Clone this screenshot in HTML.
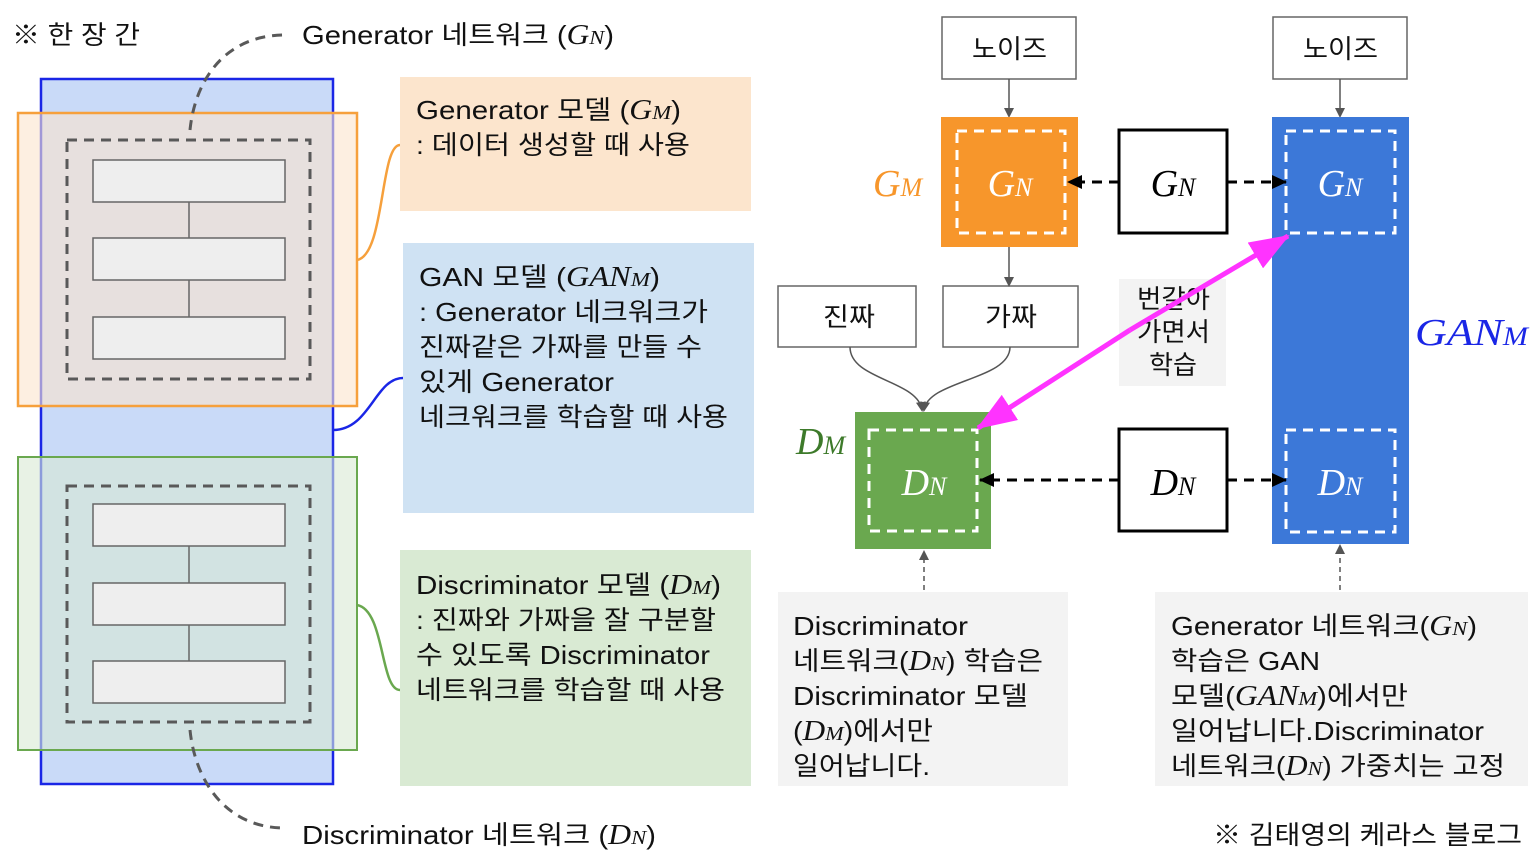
<!DOCTYPE html>
<html><head><meta charset="utf-8"><style>
html,body{margin:0;padding:0;background:#fff}
svg{display:block}
.t{font-family:"Liberation Sans","Noto Sans CJK KR",sans-serif;font-size:26px;fill:#111}
.m{font-family:"Liberation Serif",serif;font-style:italic}
</style></head><body>
<svg width="1538" height="858" viewBox="0 0 1538 858" xmlns="http://www.w3.org/2000/svg">
<defs>
<marker id="ag" markerWidth="10" markerHeight="10" refX="8" refY="5" orient="auto" markerUnits="userSpaceOnUse"><path d="M0,0 L10,5 L0,10 z" fill="#555"/></marker>
<marker id="ab" markerWidth="16" markerHeight="16" refX="14" refY="8" orient="auto" markerUnits="userSpaceOnUse"><path d="M0,1 L15,8 L0,15 z" fill="#000"/></marker>
<marker id="am" markerWidth="40" markerHeight="30" refX="38" refY="15" orient="auto" markerUnits="userSpaceOnUse"><path d="M0,0 L40,15 L0,30 z" fill="#ff33ff"/></marker>
</defs>

<rect x="41" y="79" width="292" height="705" fill="#c9daf8" stroke="#1a26e6" stroke-width="2.5"/>
<rect x="18" y="113" width="339" height="293" fill="#fce5cd" fill-opacity="0.6" stroke="#f6a03c" stroke-width="2.5"/>
<rect x="18" y="457" width="339" height="293" fill="#d9ead3" fill-opacity="0.6" stroke="#6aa84f" stroke-width="2"/>
<rect x="67" y="140" width="243" height="239" fill="none" stroke="#595959" stroke-width="3" stroke-dasharray="10,7"/>
<rect x="67" y="486" width="243" height="236" fill="none" stroke="#595959" stroke-width="3" stroke-dasharray="10,7"/>
<g fill="#eeeeee" stroke="#666" stroke-width="1.5">
<line x1="189" y1="202" x2="189" y2="317"/>
<line x1="189" y1="546" x2="189" y2="661"/>
<rect x="93" y="160" width="192" height="42"/><rect x="93" y="238" width="192" height="42"/><rect x="93" y="317" width="192" height="42"/>
<rect x="93" y="504" width="192" height="42"/><rect x="93" y="583" width="192" height="42"/><rect x="93" y="661" width="192" height="42"/>
</g>
<path d="M190,130 C195,80 225,35 285,35" fill="none" stroke="#595959" stroke-width="3" stroke-dasharray="10,7"/>
<path d="M190,730 C195,780 225,828 285,828" fill="none" stroke="#595959" stroke-width="3" stroke-dasharray="10,7"/>
<path d="M357,260 C385,255 380,145 400,145" fill="none" stroke="#f6a03c" stroke-width="2.5"/>
<path d="M333,430 C370,430 375,378 403,378" fill="none" stroke="#1a26e6" stroke-width="2.5"/>
<path d="M357,605 C385,610 380,690 400,690" fill="none" stroke="#6aa84f" stroke-width="2.5"/>

<rect x="400" y="77" width="351" height="134" fill="#fce5cd"/>
<rect x="403" y="243" width="351" height="270" fill="#cfe2f3"/>
<rect x="400" y="550" width="351" height="236" fill="#d9ead3"/>

<text class="t" x="12" y="44" textLength="128" lengthAdjust="spacingAndGlyphs">※ 한 장 간</text>
<text class="t" x="302" y="44" textLength="312" lengthAdjust="spacingAndGlyphs">Generator 네트워크 (<tspan class="m" font-size="28">G</tspan><tspan class="m" font-size="20">N</tspan>)</text>
<text class="t" x="302" y="844" textLength="354" lengthAdjust="spacingAndGlyphs">Discriminator 네트워크 (<tspan class="m" font-size="28">D</tspan><tspan class="m" font-size="20">N</tspan>)</text>
<text class="t" x="416" y="119" textLength="265" lengthAdjust="spacingAndGlyphs">Generator 모델 (<tspan class="m" font-size="28">G</tspan><tspan class="m" font-size="20">M</tspan>)</text>
<text class="t" x="416" y="154" textLength="274" lengthAdjust="spacingAndGlyphs">: 데이터 생성할 때 사용</text>
<text class="t" x="419" y="286" textLength="241" lengthAdjust="spacingAndGlyphs">GAN 모델 (<tspan class="m" font-size="28">GAN</tspan><tspan class="m" font-size="20">M</tspan>)</text>
<text class="t" x="419" y="321" textLength="289" lengthAdjust="spacingAndGlyphs">: Generator 네크워크가</text>
<text class="t" x="419" y="356" textLength="283" lengthAdjust="spacingAndGlyphs">진짜같은 가짜를 만들 수</text>
<text class="t" x="419" y="391" textLength="195" lengthAdjust="spacingAndGlyphs">있게 Generator</text>
<text class="t" x="419" y="426" textLength="309" lengthAdjust="spacingAndGlyphs">네크워크를 학습할 때 사용</text>
<text class="t" x="416" y="594" textLength="305" lengthAdjust="spacingAndGlyphs">Discriminator 모델 (<tspan class="m" font-size="28">D</tspan><tspan class="m" font-size="20">M</tspan>)</text>
<text class="t" x="416" y="629" textLength="300" lengthAdjust="spacingAndGlyphs">: 진짜와 가짜을 잘 구분할</text>
<text class="t" x="416" y="664" textLength="294" lengthAdjust="spacingAndGlyphs">수 있도록 Discriminator</text>
<text class="t" x="416" y="699" textLength="309" lengthAdjust="spacingAndGlyphs">네트워크를 학습할 때 사용</text>

<g fill="#fff" stroke="#666" stroke-width="1.5">
<rect x="942" y="17" width="134" height="62"/>
<rect x="1273" y="17" width="134" height="62"/>
<rect x="778" y="286" width="138" height="61"/>
<rect x="943" y="286" width="135" height="61"/>
</g>
<text class="t" x="972" y="58" textLength="75" lengthAdjust="spacingAndGlyphs">노이즈</text>
<text class="t" x="1303" y="58" textLength="75" lengthAdjust="spacingAndGlyphs">노이즈</text>
<text class="t" x="823" y="326" textLength="52" lengthAdjust="spacingAndGlyphs">진짜</text>
<text class="t" x="985" y="326" textLength="52" lengthAdjust="spacingAndGlyphs">가짜</text>

<line x1="1009" y1="79" x2="1009" y2="116" stroke="#555" stroke-width="1.5" marker-end="url(#ag)"/>
<line x1="1340" y1="79" x2="1340" y2="116" stroke="#555" stroke-width="1.5" marker-end="url(#ag)"/>
<line x1="1009" y1="247" x2="1009" y2="285" stroke="#555" stroke-width="1.5" marker-end="url(#ag)"/>
<path d="M850,347 C850,380 918,380 922,410" fill="none" stroke="#555" stroke-width="1.5" marker-end="url(#ag)"/>
<path d="M1010,347 C1010,380 928,380 924,410" fill="none" stroke="#555" stroke-width="1.5" marker-end="url(#ag)"/>

<rect x="941" y="117" width="137" height="130" fill="#f7962b"/>
<rect x="957" y="131" width="108" height="102" fill="none" stroke="#fff" stroke-width="3" stroke-dasharray="10,7"/>
<rect x="1272" y="117" width="137" height="427" fill="#3c78d8"/>
<rect x="1286" y="131" width="109" height="102" fill="none" stroke="#fff" stroke-width="3" stroke-dasharray="10,7"/>
<rect x="1286" y="430" width="109" height="102" fill="none" stroke="#fff" stroke-width="3" stroke-dasharray="10,7"/>
<rect x="855" y="412" width="136" height="137" fill="#6aa84f"/>
<rect x="869" y="430" width="108" height="101" fill="none" stroke="#fff" stroke-width="3" stroke-dasharray="10,7"/>

<rect x="1119" y="130" width="108" height="103" fill="#fff" stroke="#000" stroke-width="3"/>
<rect x="1119" y="429" width="108" height="102" fill="#fff" stroke="#000" stroke-width="3"/>
<rect x="1119" y="279" width="107" height="107" fill="#f3f3f3"/>
<text class="t" x="1137" y="308" font-size="24" textLength="73" lengthAdjust="spacingAndGlyphs">번갈아</text>
<text class="t" x="1137" y="341" font-size="24" textLength="73" lengthAdjust="spacingAndGlyphs">가면서</text>
<text class="t" x="1173" y="374" text-anchor="middle" font-size="24">학습</text>

<g stroke="#000" stroke-width="3" stroke-dasharray="10,7">
<line x1="1119" y1="182" x2="1068" y2="182" marker-end="url(#ab)"/>
<line x1="1227" y1="182" x2="1286" y2="182" marker-end="url(#ab)"/>
<line x1="1119" y1="480" x2="980" y2="480" marker-end="url(#ab)"/>
<line x1="1227" y1="480" x2="1286" y2="480" marker-end="url(#ab)"/>
</g>

<line x1="1130" y1="330" x2="1288" y2="236" stroke="#ff33ff" stroke-width="5" marker-end="url(#am)"/>
<line x1="1130" y1="330" x2="978" y2="428" stroke="#ff33ff" stroke-width="5" marker-end="url(#am)"/>

<g class="m" font-size="38">
<text x="1010" y="196" text-anchor="middle" fill="#fff"><tspan>G</tspan><tspan font-size="26">N</tspan></text>
<text x="1173" y="196" text-anchor="middle" fill="#000"><tspan>G</tspan><tspan font-size="26">N</tspan></text>
<text x="1340" y="196" text-anchor="middle" fill="#fff"><tspan>G</tspan><tspan font-size="26">N</tspan></text>
<text x="924" y="495" text-anchor="middle" fill="#fff"><tspan>D</tspan><tspan font-size="26">N</tspan></text>
<text x="1173" y="495" text-anchor="middle" fill="#000"><tspan>D</tspan><tspan font-size="26">N</tspan></text>
<text x="1340" y="495" text-anchor="middle" fill="#fff"><tspan>D</tspan><tspan font-size="26">N</tspan></text>
<text x="873" y="196" fill="#f7962b"><tspan>G</tspan><tspan font-size="26">M</tspan></text>
<text x="796" y="454" fill="#3d7a2a"><tspan>D</tspan><tspan font-size="26">M</tspan></text>
<text x="1415" y="345" fill="#1a26e6" textLength="113" lengthAdjust="spacingAndGlyphs"><tspan>GAN</tspan><tspan font-size="26">M</tspan></text>
</g>

<line x1="924" y1="590" x2="924" y2="552" stroke="#555" stroke-width="1.5" stroke-dasharray="5,4" marker-end="url(#ag)"/>
<line x1="1340" y1="590" x2="1340" y2="546" stroke="#555" stroke-width="1.5" stroke-dasharray="5,4" marker-end="url(#ag)"/>

<rect x="778" y="592" width="290" height="194" fill="#f3f3f3"/>
<rect x="1155" y="592" width="373" height="194" fill="#f3f3f3"/>
<text class="t" x="793" y="635" textLength="175" lengthAdjust="spacingAndGlyphs">Discriminator</text>
<text class="t" x="793" y="670" textLength="250" lengthAdjust="spacingAndGlyphs">네트워크(<tspan class="m" font-size="28">D</tspan><tspan class="m" font-size="20">N</tspan>) 학습은</text>
<text class="t" x="793" y="705" textLength="235" lengthAdjust="spacingAndGlyphs">Discriminator 모델</text>
<text class="t" x="793" y="740" textLength="140" lengthAdjust="spacingAndGlyphs">(<tspan class="m" font-size="28">D</tspan><tspan class="m" font-size="20">M</tspan>)에서만</text>
<text class="t" x="793" y="775" textLength="137" lengthAdjust="spacingAndGlyphs">일어납니다.</text>
<text class="t" x="1171" y="635" textLength="306" lengthAdjust="spacingAndGlyphs">Generator 네트워크(<tspan class="m" font-size="28">G</tspan><tspan class="m" font-size="20">N</tspan>)</text>
<text class="t" x="1171" y="670" textLength="149" lengthAdjust="spacingAndGlyphs">학습은 GAN</text>
<text class="t" x="1171" y="705" textLength="237" lengthAdjust="spacingAndGlyphs">모델(<tspan class="m" font-size="28">GAN</tspan><tspan class="m" font-size="20">M</tspan>)에서만</text>
<text class="t" x="1171" y="740" textLength="313" lengthAdjust="spacingAndGlyphs">일어납니다.Discriminator</text>
<text class="t" x="1171" y="775" textLength="334" lengthAdjust="spacingAndGlyphs">네트워크(<tspan class="m" font-size="28">D</tspan><tspan class="m" font-size="20">N</tspan>) 가중치는 고정</text>

<text class="t" x="1213" y="844" textLength="309" lengthAdjust="spacingAndGlyphs">※ 김태영의 케라스 블로그</text>
</svg>
</body></html>
